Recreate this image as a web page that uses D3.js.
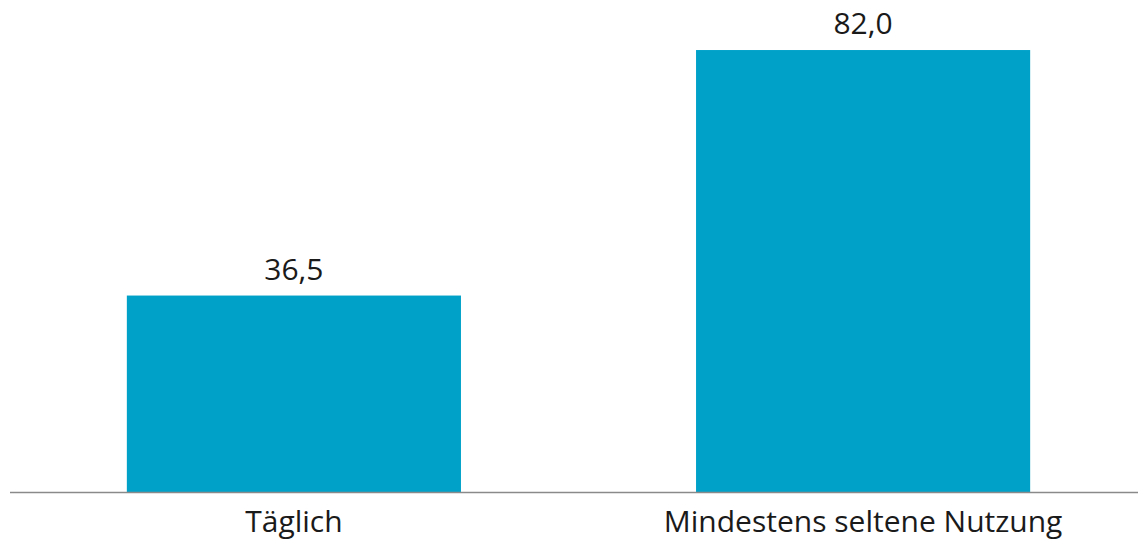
<!doctype html>
<html lang="de">
<head>
    <meta charset="utf-8">
    <title>Nutzung</title>
    <script src="https://d3js.org/d3.v7.min.js"></script>
    <style>
        body { margin: 0; padding: 0; background: #fff; }
        svg { display: block; }
        .label { font-family: 'Open Sans', sans-serif; font-size: 30px; fill: #1a1a1a; }
    </style>
</head>
<body>
    <div class="chart"></div>
    <script>
        // data
        const categories = ["Täglich", "Mindestens seltene Nutzung"];
        const values = [36.5, 82.0];

        const width = 1138;
        const height = 539;

        const svg = d3.select(".chart").append("svg")
            .attr("width", width)
            .attr("height", height);

        // scales
        const x = d3.scaleBand()
            .domain(categories)
            .range([13, 1144])
            .paddingInner(0.413)
            .paddingOuter(0.2);

        const y = d3.scaleLinear()
            .domain([0, 90])
            .range([492.5, 492.5 - 90 * 5.396]);

        const fmt = v => d3.format(".1f")(v).replace(".", ",");

        // bars
        svg.selectAll("rect.bar")
            .data(values)
            .enter()
            .append("rect")
            .attr("class", "bar")
            .attr("x", (d, i) => x(categories[i]))
            .attr("width", x.bandwidth())
            .attr("y", d => y(d))
            .attr("height", d => y(0) - y(d))
            .style("fill", "#00a1c9");

        // value labels
        svg.selectAll("text.value")
            .data(values)
            .enter()
            .append("text")
            .attr("class", "label value")
            .attr("x", (d, i) => x(categories[i]) + x.bandwidth() / 2)
            .attr("y", d => y(d) - 16)
            .attr("text-anchor", "middle")
            .text(d => fmt(d));

        // baseline axis
        const axis = svg.append("g")
            .attr("transform", `translate(0,${y(0)})`);

        axis.append("line")
            .attr("x1", 10)
            .attr("x2", width)
            .style("stroke", "#8a8a8a")
            .style("stroke-width", 1.5);

        axis.selectAll("text")
            .data(categories)
            .enter()
            .append("text")
            .attr("class", "label")
            .attr("x", d => x(d) + x.bandwidth() / 2)
            .attr("y", 39)
            .attr("text-anchor", "middle")
            .text(d => d);
    </script>
</body>
</html>
